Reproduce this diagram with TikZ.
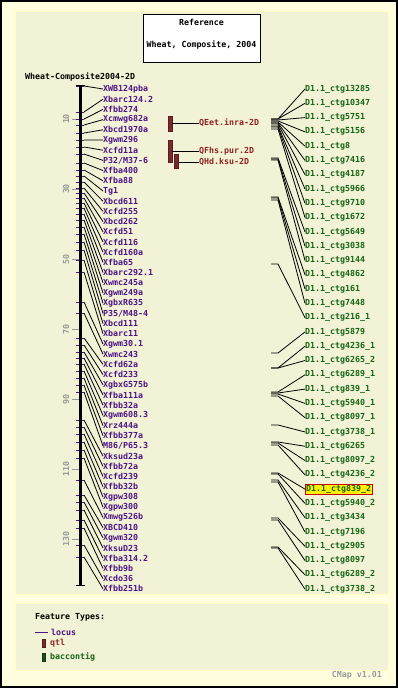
\documentclass[tikz,border=0pt]{standalone}
\usepackage{fontspec}
\setmonofont{DejaVu Sans Mono}
\definecolor{bgouter}{HTML}{FFFFE0}
\definecolor{panelfill}{HTML}{F2F2D6}
\definecolor{panelline}{HTML}{FFFFC0}
\definecolor{locuscol}{HTML}{4B1487}
\definecolor{qtlcol}{HTML}{8E2424}
\definecolor{qtlbarcol}{HTML}{7A2A2A}
\definecolor{ctgcol}{HTML}{146414}
\definecolor{ctgbarcol}{HTML}{1F4F1F}
\definecolor{scalecol}{HTML}{999999}
\begin{document}
\begin{tikzpicture}[x=1pt,y=-1pt,
   every node/.style={font=\ttfamily\bfseries\fontsize{8.3}{10}\selectfont,inner sep=0pt},
   locuslabel/.style={anchor=west,text=locuscol},
   ctglabel/.style={anchor=west,text=ctgcol},
   qtllabel/.style={anchor=west,text=qtlcol},
   qtlbar/.style={draw=qtlbarcol!70!black,fill=qtlbarcol,minimum width=4pt},
   hilite/.style={fill=yellow,draw=red!80!black,inner xsep=1pt,inner ysep=1pt},
   link/.style={black,line width=0.8pt}]
   \useasboundingbox (0,0) rectangle (398,688);
   \draw [line width=2pt,fill=bgouter] (1,1) rectangle (397,687);
   \draw [panelline,line width=1pt,fill=panelfill] (15,11) rectangle (388,594);
   \draw [panelline,line width=1pt,fill=panelfill] (15,603) rectangle (388,670);
   % title box
   \node [draw,fill=white,minimum width=117pt,minimum height=48pt] (title) at (201.5,38) {};
   \node (reftext) at (201.5,22) {Reference};
   \node (maptext) at (201.5,45) {Wheat, Composite, 2004};
   \node [anchor=west] (mapname) at (25,77) {Wheat-Composite2004-2D};
   % scale
   \foreach \v in {10,30,...,130} {
     \draw [scalecol,line width=0.8pt] (72,{84+3.5*\v}) -- (79,{84+3.5*\v});
     \node [text=scalecol,rotate=90] (s\v) at (66,{84+3.5*\v}) {\v};
   }
   % loci
   \foreach \m/\name [count=\i] in {86/XWB124pba,112/Xbarc124.2,119/Xfbb274,125/Xcmwg682a,
     133/Xbcd1970a,140/Xgwm296,147/Xcfd11a,154/{P32/M37-6},163/Xfba400,170/Xfba88,
     176/Tg1,182/Xbcd611,188/Xcfd255,193/Xbcd262,198/Xcfd51,203/Xcfd116,208/Xcfd160a,
     214/Xfba65,220/Xbarc292.1,227/Xwmc245a,234/Xgwm249a,242/XgbxR635,250/{P35/M48-4},
     260/Xbcd111,272/Xbarc11,302/Xgwm30.1,313/Xwmc243,338/Xcfd62a,345/Xcfd233,
     352/XgbxG575b,358/Xfba111a,364/Xfbb32a,371/Xgwm608.3,378/Xrz444a,385/Xfbb377a,
     392/{M86/P65.3},420/Xksud23a,427/Xfbb72a,434/Xcfd239,442/Xfbb32b,450/Xgpw308,
     458/Xgpw300,480/Xmwg526b,495/XBCD410,502/Xgwm320,510/XksuD23,520/Xfba314.2,
     528/Xfbb9b,545/Xcdo36,557/Xfbb251b} {
     \node [locuslabel] (L\i) at (103,{89+(\i-1)*10.2}) {\name};
     \coordinate (M\i) at (84,\m);
     \draw [link] (M\i) -- (L\i.west);
     \draw [locuscol,line width=0.8pt] (75.5,\m) -- (84,\m);
   }
   % chromosome
   \draw [black,line width=3pt] (80.5,85) -- (80.5,586);
   \draw [black,line width=1.2pt] (75.5,85.5) -- (85,85.5);
   \draw [black,line width=1.2pt] (75.5,585.5) -- (85,585.5);
   % qtl
   \node [qtlbar,minimum height=15pt] (B1) at (170,123.5) {};
   \node [qtlbar,minimum height=22pt] (B2) at (170,151) {};
   \node [qtlbar,minimum height=14pt] (B3) at (176.5,161) {};
   \node [qtllabel] (Q1) at (199,123) {QEet.inra-2D};
   \node [qtllabel] (Q2) at (199,151) {QFhs.pur.2D};
   \node [qtllabel] (Q3) at (199,162) {QHd.ksu-2D};
   \draw [link] (B1.east |- Q1.west) -- (Q1.west);
   \draw [link] (B2.east |- Q2.west) -- (Q2.west);
   \draw [link] (B3.east |- Q3.west) -- (Q3.west);
   % bac contigs
   \foreach \s/\name [count=\i] in {119/13285,119/10347,120/5751,121/5156,122/8,123/7416,
     124/4187,126/5966,127/9710,129/1672,158/5649,159/3038,160/9144,197/4862,198/161,
     200/7448,264/216\_1,353/5879,368/4236\_1,368/6265\_2,392/6289\_1,393/839\_1,
     394/5940\_1,396/8097\_1,425/3738\_1,442/6265,443/8097\_2,445/4236\_2,473/839\_2,
     474/5940\_2,480/3434,482/7196,518/2905,520/8097,547/6289\_2,548/3738\_2} {
     \ifnum\i=29 \def\hl{hilite}\else\def\hl{}\fi
     \node [ctglabel,\hl] (C\i) at (305,{89+(\i-1)*14.29}) {D1.1\_ctg\name};
     \coordinate (S\i) at (271,\s);
     \draw [link] (S\i) -- ++(7,0) -- (C\i.west);
   }
   % legend
   \node [anchor=west] (ftypes) at (35,617) {Feature Types:};
   \coordinate (lg1) at (35,632);
   \node [locuslabel] (lglocus) at (51,632) {locus};
   \draw [locuscol,line width=0.8pt] (lg1) -- ++(13,0);
   \node [qtlbar,minimum width=3pt,minimum height=8pt] (lgqbar) at (43.5,643) {};
   \node [qtllabel] (lgqtl) at (50,643) {qtl};
   \node [draw=ctgbarcol!70!black,fill=ctgbarcol,minimum width=3pt,minimum height=8pt] (lgcbar) at (43.5,657) {};
   \node [ctglabel] (lgctg) at (50,657) {baccontig};
   \node [anchor=east,text=scalecol] (version) at (382,675) {CMap v1.01};
\end{tikzpicture}
\end{document}
